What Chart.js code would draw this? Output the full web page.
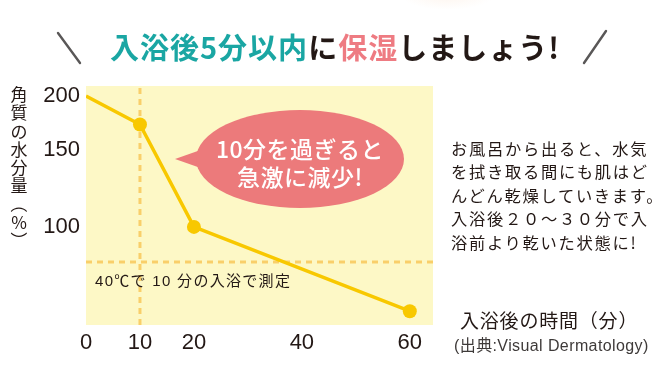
<!DOCTYPE html>
<html lang="ja">
<head>
<meta charset="utf-8">
<script src="https://cdn.jsdelivr.net/npm/chart.js@4/dist/chart.umd.min.js"></script>
<style>
  html, body { margin: 0; padding: 0; background: #ffffff; }
  #wrap { position: relative; width: 660px; height: 380px; overflow: hidden; font-family: "Noto Sans CJK JP", "Noto Sans", sans-serif; color: #231815; }
  #c { position: absolute; left: 0; top: 0; }
  .abs { position: absolute; white-space: nowrap; }
  #glow { left: 400px; top: -20px; width: 95px; height: 30px; border-radius: 50%;
          background: radial-gradient(ellipse at center, rgba(246,200,160,0.18) 0%, rgba(246,200,160,0) 70%); }
  #title { left: 110px; top: 26px; font-size: 29px; font-weight: 700; letter-spacing: 1px; line-height: 40px; color: #231815; }
  .teal { color: #1aa6a3; }
  .pink { color: #ee7b82; }
  #ytitle { left: 7px; top: 85px; width: 24px; text-align: center; white-space: normal; font-size: 17px; line-height: 18.3px; color: #231815; }
  #ytitle span { display: block; height: 18.3px; }
  #ytitle .rot { transform: rotate(90deg); }
  #bubbletext { left: 196px; top: 134px; width: 208px; text-align: center; color: #ffffff; font-size: 23px; line-height: 28px; font-weight: 500; letter-spacing: 0.5px; }
  #note { left: 95px; top: 271px; font-family: "Liberation Sans", "Noto Sans CJK JP", sans-serif; font-size: 15px; line-height: 20px; letter-spacing: 1.3px; color: #231815; }
  #side { left: 451px; top: 137px; font-size: 16.3px; line-height: 23.4px; letter-spacing: 1.7px; color: #231815; }
  #xtitle { left: 460px; top: 307px; font-size: 19px; line-height: 26px; letter-spacing: 0.8px; color: #231815; }
  #source { left: 454px; top: 336px; font-family: "Liberation Sans", "Noto Sans CJK JP", sans-serif; font-size: 16px; line-height: 20px; letter-spacing: 0.4px; color: #3e3a39; }
  svg { position: absolute; left: 0; top: 0; }
</style>
</head>
<body>
<div id="wrap">
  <div id="glow" class="abs"></div>
  <canvas id="c" width="660" height="380"></canvas>
  <svg width="660" height="380">
    <line x1="58" y1="33" x2="80" y2="63" stroke="#595757" stroke-width="2.4" stroke-linecap="round"/>
    <line x1="606" y1="31" x2="584" y2="63" stroke="#595757" stroke-width="2.4" stroke-linecap="round"/>
    <path d="M175 159 L212 146 L212 172 Z" fill="#ec7a7b"/>
    <ellipse cx="300" cy="159" rx="104" ry="49" fill="#ec7a7b"/>
  </svg>
  <div id="title" class="abs"><span class="teal">入浴後5分以内</span>に<span class="pink">保湿</span>しましょう!</div>
  <div id="ytitle" class="abs"><span>角</span><span>質</span><span>の</span><span>水</span><span>分</span><span>量</span><span class="rot">（</span><span>%</span><span class="rot">）</span></div>
  <div id="bubbletext" class="abs">10分を過ぎると<br>急激に減少!</div>
  <div id="note" class="abs">40℃で 10 分の入浴で測定</div>
  <div id="side" class="abs">お風呂から出ると、水気<br>を拭き取る間にも肌はど<br>んどん乾燥していきます。<br>入浴後２０～３０分で入<br>浴前より乾いた状態に!</div>
  <div id="xtitle" class="abs">入浴後の時間（分）</div>
  <div id="source" class="abs">(出典:Visual Dermatology)</div>
</div>
<script>
// ---- data ----
const minutes      = [0, 10, 20, 60];        // time after bathing (min)
const moisture     = [200, 172, 100, 64];    // stratum corneum water content (%)
const beforeLevel  = 83;                     // dashed reference level (before bathing)
const bathMinute   = 10;                     // dashed vertical marker
const xTickValues  = [0, 10, 20, 40, 60];
const yTickValues  = [100, 150, 200];
const xMin = 0, xMax = 64.3;
const yMin = 59.5, yMax = 210.8;

const mainPoints = minutes.map((m, i) => ({ x: m, y: moisture[i] }));
const hLine = [{ x: xMin, y: beforeLevel }, { x: xMax, y: beforeLevel }];
const vLine = [{ x: bathMinute, y: yMin }, { x: bathMinute, y: yMax }];

const plotBg = {
  id: 'plotBg',
  beforeDraw(chart) {
    const { ctx, chartArea: a } = chart;
    ctx.save();
    ctx.fillStyle = '#fdf8c6';
    ctx.fillRect(a.left, a.top, a.right - a.left, a.bottom - a.top);
    ctx.restore();
  }
};

const lineColor = '#f8c800';
const dashColor = '#f9cf6a';
const tickFont = { family: 'Liberation Sans, Arial, sans-serif', size: 22 };

new Chart(document.getElementById('c'), {
  type: 'line',
  data: {
    datasets: [
      { data: mainPoints, borderColor: lineColor, backgroundColor: lineColor, borderWidth: 3.5,
        pointRadius: [0, 7, 7, 7], pointBackgroundColor: lineColor, pointBorderWidth: 0,
        tension: 0, order: 0 },
      { data: hLine, borderColor: dashColor, borderWidth: 3, borderDash: [6, 5], pointRadius: 0, order: 1 },
      { data: vLine, borderColor: dashColor, borderWidth: 3, borderDash: [6, 5], pointRadius: 0, order: 1 }
    ]
  },
  options: {
    responsive: false,
    animation: false,
    layout: { padding: { left: 0, top: 86, right: 227, bottom: 25 } },
    plugins: { legend: { display: false }, tooltip: { enabled: false } },
    scales: {
      x: {
        type: 'linear', min: xMin, max: xMax,
        grid: { display: false, drawTicks: false }, border: { display: false },
        afterBuildTicks: s => { s.ticks = xTickValues.map(v => ({ value: v })); },
        afterFit: s => { s.height = 30; },
        ticks: { padding: 5, color: '#231815', font: tickFont, maxRotation: 0, autoSkip: false }
      },
      y: {
        type: 'logarithmic', min: yMin, max: yMax,
        grid: { display: false, drawTicks: false }, border: { display: false },
        afterBuildTicks: s => { s.ticks = yTickValues.map(v => ({ value: v })); },
        afterFit: s => { s.width = 86; },
        ticks: { padding: 6, color: '#231815', font: tickFont, callback: v => String(v) }
      }
    }
  },
  plugins: [plotBg]
});
</script>
</body>
</html>
